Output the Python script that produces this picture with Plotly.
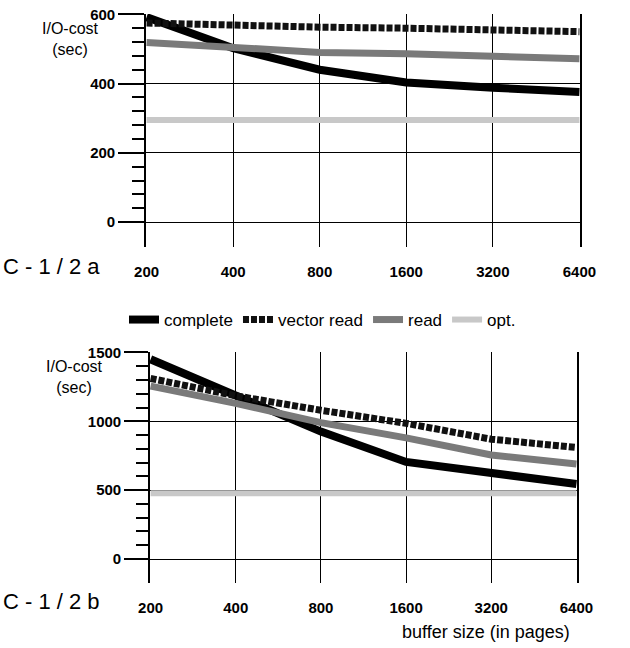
import math
import plotly.graph_objects as go

# ---- data ----
buffer_sizes = [200, 400, 800, 1600, 3200, 6400]
tick_labels = ["200", "400", "800", "1600", "3200", "6400"]

a_complete = [592, 502, 440, 403, 388, 376]
a_vector_read = [575, 568, 563, 560, 557, 550]
a_read = [519, 504, 490, 486, 480, 472]
a_opt = [295, 295, 295, 295, 295, 295]

b_complete = [1450, 1190, 925, 705, 625, 545]
b_vector_read = [1311, 1185, 1080, 985, 870, 810]
b_read = [1255, 1130, 990, 880, 755, 690]
b_opt = [478, 478, 478, 478, 478, 478]

series_names = ["complete", "vector read", "read", "opt."]

FONT = "Liberation Sans, Arial, sans-serif"

W, H = 630, 648


def px(x):
    return x / W


def py(y):
    return 1 - y / H


styles = {
    "complete": dict(color="black", width=8, dash="solid"),
    "vector read": dict(color="#111111", width=7, dash="6px,2px"),
    "read": dict(color="#7a7a7a", width=7, dash="solid"),
    "opt.": dict(color="#c8c8c8", width=6, dash="solid"),
}

fig = go.Figure()

for axes, data, show in [
    (("x", "y"), [a_complete, a_vector_read, a_read, a_opt], True),
    (("x2", "y2"), [b_complete, b_vector_read, b_read, b_opt], False),
]:
    for name, vals in zip(series_names, data):
        fig.add_trace(go.Scatter(
            x=buffer_sizes, y=vals, mode="lines", name=name,
            line=styles[name], xaxis=axes[0], yaxis=axes[1],
            showlegend=show, legendgroup=name,
        ))

xr = [math.log10(200) - 0.002, math.log10(6400) + 0.002]

common_x = dict(
    type="log", range=xr, tickvals=buffer_sizes, ticktext=tick_labels,
    showgrid=True, gridcolor="black", gridwidth=1.3, showline=False,
    zeroline=False, ticks="", ticklabelstandoff=14, automargin=False,
    tickfont=dict(family=FONT, size=15, color="black", weight="bold"),
)

common_y = dict(
    showgrid=True, gridcolor="black", gridwidth=1.3, zeroline=False,
    showline=True, linecolor="black", linewidth=1.6, mirror=True,
    ticks="outside", tickcolor="black", tickwidth=1.5, automargin=False,
    ticklabeloverflow="allow",
    tickfont=dict(family=FONT, size=15, color="black", weight="bold"),
)

fig.update_layout(
    width=W, height=H,
    margin=dict(l=0, r=0, t=0, b=0, autoexpand=False),
    paper_bgcolor="white", plot_bgcolor="white",
    xaxis=dict(domain=[px(146), px(580)], anchor="y", **common_x),
    yaxis=dict(domain=[py(247), py(14)], anchor="x",
               range=[-72, 601], tickvals=[0, 200, 400, 600], ticklen=26,
               minor=dict(tickmode="array",
                          tickvals=[v for v in range(40, 600, 40) if v % 200],
                          ticklen=12, ticks="outside", tickcolor="black",
                          tickwidth=1.5, showgrid=False),
               **common_y),
    xaxis2=dict(domain=[px(150), px(577)], anchor="y2", **common_x),
    yaxis2=dict(domain=[py(583), py(352)], anchor="x2",
                range=[-174, 1503], tickvals=[0, 500, 1000, 1500], ticklen=24,
                minor=dict(tickmode="array",
                           tickvals=[v for v in range(100, 1500, 100) if v % 500],
                           ticklen=12, ticks="outside", tickcolor="black",
                           tickwidth=1.5, showgrid=False),
                **common_y),
    legend=dict(orientation="h", x=px(124), y=py(320), xanchor="left",
                yanchor="middle", font=dict(family=FONT, size=17, color="black"),
                itemwidth=30, tracegroupgap=0, bgcolor="rgba(0,0,0,0)"),
    showlegend=True,
)

ann = [
    dict(text="I/O-cost<br>(sec)", x=px(70), y=py(39)),
    dict(text="I/O-cost<br>(sec)", x=px(74), y=py(377)),
]
for a in ann:
    fig.add_annotation(xref="paper", yref="paper", x=a["x"], y=a["y"],
                       xanchor="center", yanchor="middle",
                       text=a["text"], showarrow=False, align="center",
                       font=dict(family=FONT, size=16, color="black"))

fig.add_annotation(xref="paper", yref="paper", x=px(1), y=py(266),
                   xanchor="left", yanchor="middle", text="C - 1 / 2 a",
                   showarrow=False,
                   font=dict(family=FONT, size=22, color="black"))
fig.add_annotation(xref="paper", yref="paper", x=px(1), y=py(601),
                   xanchor="left", yanchor="middle", text="C - 1 / 2 b",
                   showarrow=False,
                   font=dict(family=FONT, size=22, color="black"))
fig.add_annotation(xref="paper", yref="paper", x=px(572), y=py(632),
                   xanchor="right", yanchor="middle",
                   text="buffer size (in pages)", showarrow=False,
                   font=dict(family=FONT, size=18, color="black"))

fig.write_html("out.html",
               config={"displayModeBar": False},
               post_script="document.body.style.margin='0';"
                           "document.body.style.overflow='hidden';")
